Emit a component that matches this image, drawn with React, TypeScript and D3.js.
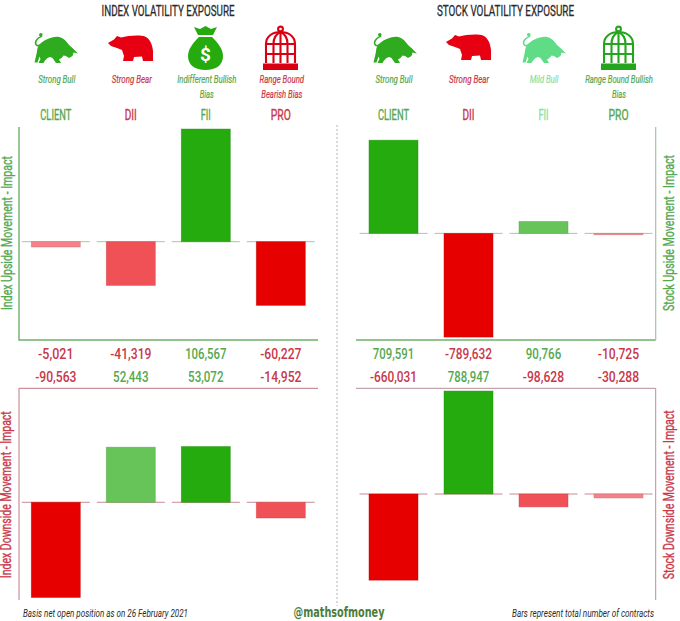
import React from "react";
import * as d3 from "d3";

const WIDTH = 680;
const HEIGHT = 621;

const categories = ["CLIENT", "DII", "FII", "PRO"];
const indexUp = [-5021, -41319, 106567, -60227];
const indexDown = [-90563, 52443, 53072, -14952];
const stockUp = [709591, -789632, 90766, -10725];
const stockDown = [-660031, 788947, -98628, -30288];

const indexBias = [["Strong Bull"], ["Strong Bear"], ["Indifferent Bullish", "Bias"], ["Range Bound", "Bearish Bias"]];
const stockBias = [["Strong Bull"], ["Strong Bear"], ["Mild Bull"], ["Range Bound Bullish", "Bias"]];

const GREEN = ["#66c458", "#66c458", "#25ab0e"];
const RED = ["#f58288", "#ef5157", "#e60000"];
const TXT_GREEN = "#55a850";
const TXT_RED = "#c9384a";
const TXT_MILD = "#86e2a6";
const NARROW = "'Liberation Sans Narrow', Roboto, sans-serif";

const indexStrength = d3.scaleThreshold<number, number>().domain([10000, 53000]).range([0, 1, 2]);
const stockStrength = d3.scaleThreshold<number, number>().domain([50000, 200000]).range([0, 1, 2]);
const indexDomain = [-93000, 108500];
const stockDomain = [-812000, 810000];

// plain hyphen for negatives, the picture doesn't use a real minus
const fmt = d3.formatLocale({ decimal: ".", thousands: ",", grouping: [3], currency: ["", ""], minus: "-" }).format(",");

function Txt({ x, y, w, size, fill, family = NARROW, weight = 400, italic = false, rotate = 0, thick = 0, children }: any) {
  return (
    <text
      x={x}
      y={y}
      textAnchor="middle"
      fontSize={size}
      fontFamily={family}
      fontWeight={weight}
      fontStyle={italic ? "italic" : "normal"}
      fill={fill}
      stroke={thick ? fill : "none"}
      strokeWidth={thick}
      textLength={w}
      lengthAdjust="spacingAndGlyphs"
      transform={rotate ? `rotate(${rotate} ${x} ${y})` : undefined}
    >
      {children}
    </text>
  );
}

function Bull({ x, y, color }: any) {
  return (
    <g transform={`translate(${x},${y})`} fill={color}>
      <path d="M6 12 C11 7 19 3 26 4 C31 5 34 9 36 12 L40 15.5 L45 20.5 L40.5 19.5 L39.5 23 L36 25 L33 23 L30.5 22.5 L28.5 25 L26 26.5 L28 30 L23 30 L19.5 25 L17 24 L14.5 25 L12 27.5 L10.5 30 L5.5 30 L7.5 26 L6.5 23.5 L4.5 29.5 L1.5 29.5 L3.5 21 L4.5 15 Z" />
      <path d="M7 12 C3 14 1 10 4 6.5 C6 4 8 4 9 3" fill="none" stroke={color} strokeWidth={1.5} />
      <circle cx={7.8} cy={1.8} r={1.8} />
    </g>
  );
}

function Bear({ x, y, color }: any) {
  return (
    <g transform={`translate(${x},${y})`} fill={color}>
      <path d="M0 8 L6 4.5 L9 1 L13 2.5 C20 0.5 32 -0.5 37 1.5 C42 3.5 44.5 10 45 16 L45 26 L35 26 L34 21.5 L26 22 L25 26 L15 26 L16 21 L14 15 L9 13 L3 11 Z" />
    </g>
  );
}

function Bag({ x, y, color }: any) {
  return (
    <g transform={`translate(${x},${y})`} fill={color}>
      <path d="M6 1 L12 3 L17.5 0 L23 3 L29 1 L25 9 L10 9 Z" />
      <path d="M11 11 L24 11 C30 17 35 23 35 30 C35 39 28 44 17.5 44 C7 44 0 39 0 30 C0 23 5 17 11 11 Z" />
      <text x={17.5} y={35} textAnchor="middle" fontSize={19} fontWeight={700} fontFamily="Roboto, sans-serif" fill="#fff">$</text>
    </g>
  );
}

function Cage({ x, y, color }: any) {
  return (
    <g transform={`translate(${x},${y})`} fill="none" stroke={color} strokeWidth={2.1}>
      <circle cx={17.5} cy={3} r={2.4} />
      <path d="M3 37 L3 18 C3 10 10 6 17.5 6 C25 6 32 10 32 18 L32 37" />
      <path d="M10.5 37 L10.5 18 C10.5 12 13 8 17.5 6 C22 8 24.5 12 24.5 18 L24.5 37" />
      <path d="M17.5 6 L17.5 37 M3 18 L32 18 M3 28 L32 28" />
      <rect x={0} y={37.5} width={35} height={6.5} fill={color} stroke="none" />
    </g>
  );
}

function Bars({ values, strength, domain, range, xRange, tick }: any) {
  const x = d3.scaleBand<string>().domain(categories).range(xRange).padding(0);
  const y = d3.scaleLinear().domain(domain).range(range);
  const barW = 49;
  const tickW = 68;
  return (
    <g>
      {categories.map((c, i) => {
        const v = values[i];
        const cx = x(c)! + x.bandwidth() / 2;
        const colors = v >= 0 ? GREEN : RED;
        const y0 = y(0);
        const yv = y(v);
        const fill = colors[strength(Math.abs(v))];
        return (
          <g key={c}>
            <line x1={cx - tickW / 2} x2={cx + tickW / 2} y1={y0} y2={y0} stroke={tick} strokeWidth={1} />
            <rect
              x={cx - barW / 2}
              y={Math.min(y0, yv)}
              width={barW}
              height={Math.abs(yv - y0)}
              fill={fill}
              stroke={d3.color(fill)!.darker(0.5).formatHex()}
              strokeOpacity={0.55}
              strokeWidth={0.8}
            />
          </g>
        );
      })}
    </g>
  );
}

export default function App() {
  const xLeft = d3.scaleBand<string>().domain(categories).range([18.3, 318.3]);
  const xRight = d3.scaleBand<string>().domain(categories).range([356, 656]);
  const centerL = (c: string) => xLeft(c)! + xLeft.bandwidth() / 2;
  const centerR = (c: string) => xRight(c)! + xRight.bandwidth() / 2;

  const nameW = [31, 12, 10, 20];
  const indexBiasColor = [TXT_GREEN, TXT_RED, TXT_GREEN, TXT_RED];
  const stockBiasColor = [TXT_GREEN, TXT_RED, TXT_MILD, TXT_GREEN];
  const indexBiasW = [[37], [40], [59, 14], [44.5, 41]];
  const stockBiasW = [[37], [40], [28.7], [67.7, 14]];

  const valueRow = (vals: number[], center: (c: string) => number, yPos: number) =>
    categories.map((c, i) => (
      <Txt
        key={c}
        x={center(c)}
        y={yPos}
        size={15}
        weight={500}
        family="Roboto, sans-serif"
        w={fmt(vals[i]).length * 5.9}
        fill={vals[i] >= 0 ? TXT_GREEN : TXT_RED}
      >
        {fmt(vals[i])}
      </Txt>
    ));

  return (
    <svg
      width={WIDTH}
      height={HEIGHT}
      style={{ position: "absolute", left: 0, top: 0, background: "#fff" }}
    >
      <Txt x={168} y={15.5} w={133} size={15} thick={0.3} fill="#2b2b2b">INDEX VOLATILITY EXPOSURE</Txt>
      <Txt x={505.5} y={15.5} w={137} size={15} thick={0.3} fill="#2b2b2b">STOCK VOLATILITY EXPOSURE</Txt>

      <Bull x={33} y={33} color="#2eab1e" />
      <Bear x={108} y={35} color="#e60012" />
      <Bag x={188} y={26} color="#25ab0e" />
      <Cage x={263} y={26} color="#d90012" />
      <Bull x={372} y={33} color="#2eab1e" />
      <Bear x={446} y={34} color="#e60012" />
      <Bull x={521} y={33} color="#5fdc85" />
      <Cage x={601} y={26} color="#25a51e" />

      {categories.map((c, i) => (
        <g key={c}>
          {indexBias[i].map((line, j) => (
            <Txt key={j} x={centerL(c) + 1} y={83 + j * 15.3} w={indexBiasW[i][j]} size={10.5} italic thick={0.2} fill={indexBiasColor[i]}>{line}</Txt>
          ))}
          {stockBias[i].map((line, j) => (
            <Txt key={j} x={centerR(c) + 0.5} y={83 + j * 15.3} w={stockBiasW[i][j]} size={10.5} italic thick={0.2} fill={stockBiasColor[i]}>{line}</Txt>
          ))}
          <Txt x={centerL(c)} y={120} w={nameW[i]} size={15} thick={0.4} fill={indexBiasColor[i]}>{c}</Txt>
          <Txt x={centerR(c)} y={120} w={nameW[i]} size={15} thick={0.4} fill={stockBiasColor[i]}>{c}</Txt>
        </g>
      ))}

      <line x1={337} x2={337} y1={125} y2={606} stroke="#b5b5b5" strokeWidth={1} strokeDasharray="2 2" />

      <path d="M19 127 L19 340 L318 340" fill="none" stroke="#6fb069" strokeWidth={1.4} />
      <path d="M356 340 L655.7 340" fill="none" stroke="#6fb069" strokeWidth={1.4} />
      <path d="M655.7 127 L655.7 340" fill="none" stroke="#a9bda9" strokeWidth={1.2} />
      <path d="M19 600 L19 388.3 L318 388.3" fill="none" stroke="#bf7685" strokeWidth={1} />
      <path d="M356 388.3 L655.7 388.3 L655.7 600" fill="none" stroke="#b78f98" strokeWidth={1} />

      <Bars values={indexUp} strength={indexStrength} domain={indexDomain} range={[340, 127]} xRange={[18.3, 318.3]} tick="#a3c9a0" />
      <Bars values={stockUp} strength={stockStrength} domain={stockDomain} range={[340, 127]} xRange={[356, 656]} tick="#a3c9a0" />
      <Bars values={indexDown} strength={indexStrength} domain={indexDomain} range={[600, 388.3]} xRange={[18.3, 318.3]} tick="#c98a94" />
      <Bars values={stockDown} strength={stockStrength} domain={stockDomain} range={[600, 388.3]} xRange={[356, 656]} tick="#c98a94" />

      {valueRow(indexUp, centerL, 359.3)}
      {valueRow(indexDown, centerL, 381.7)}
      {valueRow(stockUp, centerR, 359.3)}
      {valueRow(stockDown, centerR, 381.7)}

      <Txt x={11.5} y={233} w={154} size={14} thick={0.35} fill={TXT_GREEN} rotate={-90}>Index Upside Movement - Impact</Txt>
      <Txt x={11.5} y={494.7} w={167} size={14} thick={0.35} fill={TXT_RED} rotate={-90}>Index Downside Movement - Impact</Txt>
      <Txt x={674} y={233} w={156} size={14} thick={0.35} fill={TXT_GREEN} rotate={-90}>Stock Upside Movement - Impact</Txt>
      <Txt x={674} y={494.7} w={169} size={14} thick={0.35} fill={TXT_RED} rotate={-90}>Stock Downside Movement - Impact</Txt>

      <Txt x={105.5} y={616.5} w={165} size={10.5} italic fill="#2b2b2b">Basis net open position as on 26 February 2021</Txt>
      <Txt x={339} y={617} w={91} size={14} weight={700} family="'DejaVu Sans', sans-serif" fill="#4d7c3a">@mathsofmoney</Txt>
      <Txt x={583} y={616.5} w={142} size={10.5} italic fill="#2b2b2b">Bars represent total number of contracts</Txt>
    </svg>
  );
}
